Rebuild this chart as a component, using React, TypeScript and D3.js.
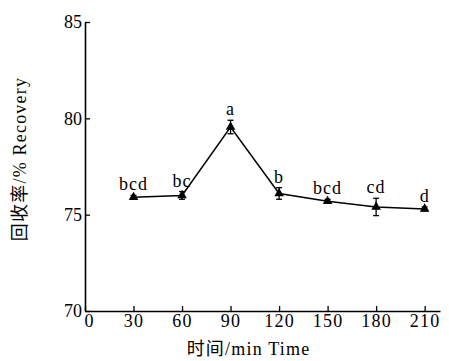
import React, { useEffect, useRef } from 'react';
import * as d3 from 'd3';

// 数据
const times = [30, 60, 90, 120, 150, 180, 210];
const recovery = [75.9, 76.0, 79.55, 76.1, 75.7, 75.4, 75.3];
const errors = [0.1, 0.2, 0.35, 0.3, 0.1, 0.45, 0.1];
const letters = ['bcd', 'bc', 'a', 'b', 'bcd', 'cd', 'd'];
const xTicks = [0, 30, 60, 90, 120, 150, 180, 210];
const yTicks = [70, 75, 80, 85];

const App = () => {
  const ref = useRef<SVGSVGElement | null>(null);

  useEffect(() => {
    const W = 449;
    const H = 361;
    const left = 85;
    const top = 22;
    const width = 355;
    const height = 289;
    const font = "'Liberation Serif', 'Times New Roman', 'DejaVu Serif', 'Noto Sans CJK SC', serif";

    const svg = d3.select(ref.current);
    svg.selectAll('*').remove();
    svg.attr('width', W).attr('height', H);

    const g = svg.append('g').attr('transform', `translate(${left},${top})`);

    const x = d3.scaleLinear().domain([0, 219.5]).range([0, width]);
    const y = d3.scaleLinear().domain([70, 85]).range([height, 0]);

    // 坐标轴
    const xAxis = g
      .append('g')
      .attr('transform', `translate(0,${height})`)
      .call(d3.axisBottom(x).tickValues(xTicks).tickSizeInner(-5).tickSizeOuter(0).tickPadding(3));
    xAxis.attr('font-family', null).attr('font-size', null);
    xAxis.select('.domain').attr('stroke-width', 1.6);
    xAxis.selectAll('.tick line').attr('stroke-width', 1.3);
    xAxis.selectAll('text').attr('font-family', font).attr('font-size', 18).attr('letter-spacing', 1.2).attr('fill', '#000');
    xAxis.selectAll('.tick').filter((d: any) => d === 0).select('text').attr('dx', 4);

    const yAxis = g
      .append('g')
      .call(d3.axisLeft(y).tickValues(yTicks).tickSizeInner(-5).tickSizeOuter(0).tickPadding(3));
    yAxis.attr('font-family', null).attr('font-size', null);
    yAxis.select('.domain').attr('stroke-width', 1.6);
    yAxis.selectAll('.tick line').attr('stroke-width', 1.3);
    yAxis.selectAll('text').attr('font-family', font).attr('font-size', 18).attr('fill', '#000');

    // 折线
    const line = d3
      .line<number>()
      .x((d, i) => x(times[i]))
      .y(d => y(d));
    g.append('path')
      .datum(recovery)
      .attr('fill', 'none')
      .attr('stroke', '#000')
      .attr('stroke-width', 1.5)
      .attr('d', line);

    // 误差线
    const eb = g.append('g').attr('stroke', '#000').attr('stroke-width', 1.3);
    recovery.forEach((v, i) => {
      const cx = x(times[i]);
      const y1 = y(v + errors[i]);
      const y2 = y(v - errors[i]);
      eb.append('line').attr('x1', cx).attr('x2', cx).attr('y1', y1).attr('y2', y2);
      eb.append('line').attr('x1', cx - 3).attr('x2', cx + 3).attr('y1', y1).attr('y2', y1);
      eb.append('line').attr('x1', cx - 3).attr('x2', cx + 3).attr('y1', y2).attr('y2', y2);
    });

    // 三角形标记
    g.selectAll('.pt')
      .data(recovery)
      .enter()
      .append('path')
      .attr('class', 'pt')
      .attr('transform', (d, i) => `translate(${x(times[i])},${y(d)})`)
      .attr('d', d3.symbol().type(d3.symbolTriangle).size(40))
      .attr('fill', '#000');

    // 显著性字母
    g.selectAll('.lbl')
      .data(recovery)
      .enter()
      .append('text')
      .attr('class', 'lbl')
      .attr('x', (d, i) => x(times[i]))
      .attr('y', (d, i) => y(d + errors[i]) - 5)
      .attr('text-anchor', 'middle')
      .attr('font-family', font)
      .attr('font-size', 18)
      .attr('letter-spacing', 1)
      .text((d, i) => letters[i]);

    // 轴标题
    svg
      .append('text')
      .attr('x', left + width / 2 - 14)
      .attr('y', 355)
      .attr('text-anchor', 'middle')
      .attr('font-family', font)
      .attr('font-size', 18)
      .attr('letter-spacing', 1.2)
      .text('时间/min Time');

    svg
      .append('text')
      .attr('transform', `translate(26,${top + 137}) rotate(-90)`)
      .attr('text-anchor', 'middle')
      .attr('font-family', font)
      .attr('font-size', 18)
      .attr('letter-spacing', 1.2)
      .text('回收率/% Recovery');
  }, []);

  return <svg ref={ref} style={{ position: 'absolute', left: 0, top: 0 }} />;
};

export default App;
